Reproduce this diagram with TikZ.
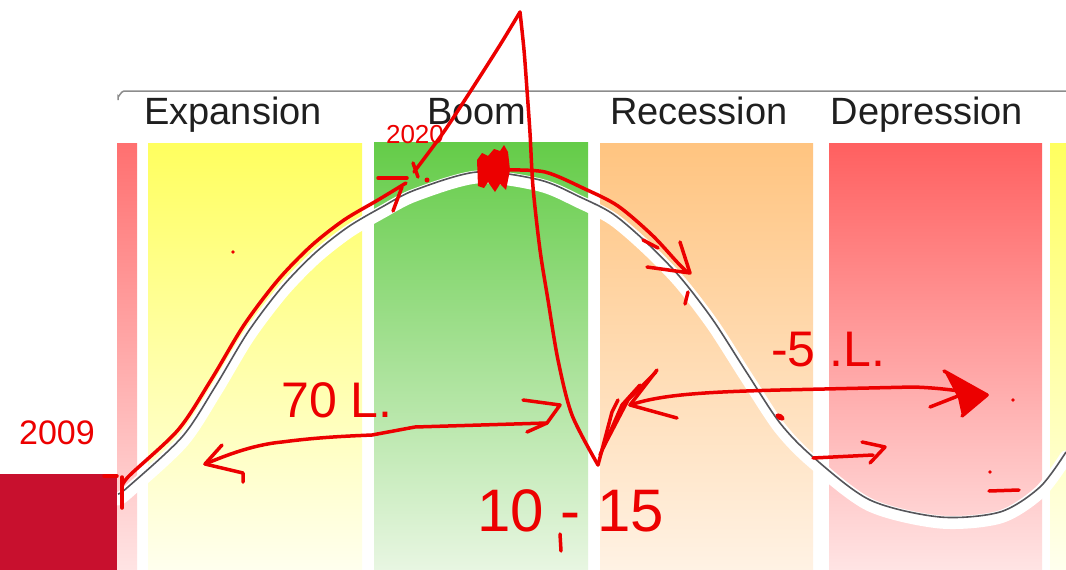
\documentclass[tikz,border=0pt]{standalone}
\usepackage{fontspec}
\setmainfont{Liberation Sans}
\definecolor{annred}{RGB}{236,0,0}
\definecolor{blockred}{RGB}{200,16,46}
\definecolor{ytop}{RGB}{255,255,95}
\definecolor{ybot}{RGB}{255,255,238}
\definecolor{gtop}{RGB}{100,204,72}
\definecolor{gbot}{RGB}{232,246,226}
\definecolor{otop}{RGB}{255,196,128}
\definecolor{obot}{RGB}{255,242,228}
\definecolor{rtop}{RGB}{255,96,96}
\definecolor{rbot}{RGB}{255,228,228}
\definecolor{curvegray}{RGB}{85,85,90}
\begin{document}
\begin{tikzpicture}[x=1pt,y=-1pt,
  panel/.style={draw=none},
  header/.style={anchor=base, text=black!88, inner sep=0pt, font=\fontsize{38}{38}\selectfont},
  ann/.style={draw=annred, line width=3.5pt, line cap=round, line join=round},
  anntxt/.style={text=annred, inner sep=0pt}]
\useasboundingbox (0,0) rectangle (1066,570);
\fill[white] (0,0) rectangle (1066,570);
% frame line
\draw[black!45, line width=1.5pt] (118,100) -- (118,96) to[out=-90,in=180] (124,91) -- (1066,91);
% panels
\shade[panel, top color=rtop!90!white, bottom color=rbot] (117,143) rectangle (137,570);
\shade[panel, top color=ytop, bottom color=ybot] (148,143) rectangle (362,570);
\shade[panel, top color=gtop, bottom color=gbot] (374,142) rectangle (588,570);
\shade[panel, top color=otop, bottom color=obot] (600,143) rectangle (813,570);
\shade[panel, top color=rtop, bottom color=rbot] (829,143) rectangle (1042,570);
\shade[panel, top color=ytop, bottom color=ybot] (1050,143) rectangle (1066,570);
% headers
\node[header] (hexp) at (233,124) {Expansion};
\node[header] (hboom) at (477,124) {Boom};
\node[header] (hrec) at (699,124) {Recession};
\node[header] (hdep) at (927,124) {Depression};
% business cycle curve
\def\cyc{(118,494) (128,487) (182,437) (215,387) (248,332) (282,287) (315,253) (348,227) (382,207) (415,190) (477,172) (540,180) (580,197) (613,214) (647,243) (680,277) (713,320) (747,373) (780,423) (813,457) (870,500) (940,517) (1000,512) (1040,487) (1066,452)}
\draw[white, line width=13pt, line cap=round, shift={(0,5)}] plot[smooth, tension=0.5] coordinates {\cyc};
\draw[curvegray, line width=1.6pt] plot[smooth, tension=0.5] coordinates {\cyc};
% dark red block
\fill[blockred] (0,474) rectangle (117,570);
% ---- red annotations ----
\node[anntxt, font=\fontsize{34}{34}\selectfont] (t2009) at (57,433) {2009};
\node[anntxt, font=\fontsize{26}{26}\selectfont] (t2020) at (415,135) {2020};
\node[anntxt, font=\fontsize{50}{50}\selectfont] (t70) at (337,400) {70 L.};
\node[anntxt, font=\fontsize{50}{50}\selectfont] (t5) at (828,350) {-5 .L.};
\node[anntxt, font=\fontsize{60}{60}\selectfont] (t1015) at (571,511) {10 - 15};
% start tick
\draw[ann] (104,476) -- (117,476);
\draw[ann] (122,477) -- (122,508);
% rising trace with head at 2020
\draw[ann, shift={(-4,-7)}] plot[smooth, tension=0.5] coordinates {(126,496) (132,484) (182,437) (215,387) (248,332) (282,287) (315,253) (348,227) (382,207) (410,190)};
\draw[ann] (378,178) -- (407,178);
\draw[ann] (402,187) -- (393,211);
\fill[annred] (427,180) circle (2.5pt);
% peak scribble
\fill[annred] (477,160) -- (482,153) -- (488,156) -- (494,149) -- (500,151) -- (504,145) -- (508,152) -- (510,170) -- (506,190) -- (500,184) -- (495,192) -- (488,182) -- (484,188) -- (478,186) -- cycle;
% falling trace with head
\draw[ann, shift={(5,-8)}] plot[smooth, tension=0.5] coordinates {(500,178) (540,180) (580,197) (613,214) (647,243) (672,270) (682,280)};
\draw[ann] (643,240) -- (658,248);
\draw[ann] (680,242) -- (690,273) -- (647,267);
\draw[ann] (688,292) -- (685,304);
% big triangle
\draw[ann] (413,163) -- (418,177);
\draw[ann] plot[smooth, tension=0.5] coordinates {(414,172) (443,133) (470,92) (500,45) (520,12)};
\draw[ann] plot[smooth, tension=0.5] coordinates {(520,12) (524,50) (527,90) (530,133) (533,187) (540,250) (548,300) (558,360) (572,415) (598,465)};
% V strokes
\draw[ann] (598,465) -- (612,412) -- (618,400);
\draw[ann] (600,455) -- (622,405) -- (640,385);
\draw[ann] (603,448) -- (628,400) -- (656,372);
% -5 L arrow
\coordinate (la) at (630,405);
\coordinate (ra) at (987,395);
\draw[ann] (la) .. controls (660,395) and (700,392) .. (780,390) -- (913,387) .. controls (945,388) and (965,392) .. (ra);
\draw[ann] (657,370) -- (la) -- (677,418);
\fill[annred] (944,371) -- (ra) -- (962,416) -- (958,398) -- cycle;
\draw[ann] (944,371) -- (ra) -- (962,416);
\draw[ann] (930,407) -- (958,396);
% 70 L arrow
\coordinate (lb) at (205,464);
\coordinate (rb) at (560,405);
\draw[ann] (lb) .. controls (220,458) and (250,445) .. (282,442) .. controls (320,437) and (350,436) .. (372,435) -- (415,427) -- (547,423);
\draw[ann] (222,445) -- (lb) -- (243,473) -- (243,482);
\draw[ann] (523,400) -- (rb) -- (547,423) -- (527,432);
% tick under dash
\draw[ann] (560,534) -- (561,551);
% small arrow in depression
\draw[ann] (813,458) -- (873,455);
\draw[ann] (862,442) -- (885,447) -- (870,463);
% dots and marks
\fill[annred] (233,252) circle (1.8pt);
\fill[annred, rotate around={60:(780,417)}] (780,417) ellipse (3pt and 5pt);
\fill[annred] (1013,400) circle (1.8pt);
\fill[annred] (990,472) circle (1.8pt);
\draw[ann] (989,491) -- (1019,490);
\end{tikzpicture}
\end{document}
